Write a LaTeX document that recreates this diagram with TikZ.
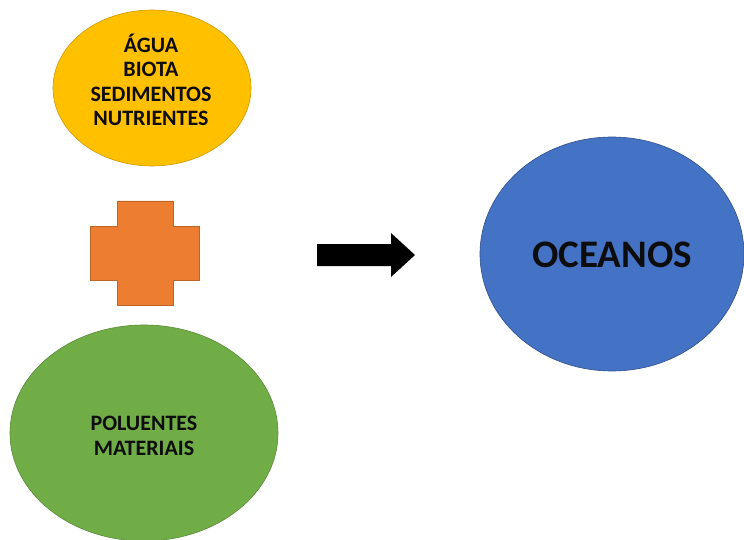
\documentclass[tikz,border=0pt]{standalone}
\usepackage{fontspec}
\setmainfont{Carlito}
\usetikzlibrary{shapes.geometric}
\definecolor{cyellow}{HTML}{FFC000}
\definecolor{corange}{HTML}{ED7D31}
\definecolor{cgreen}{HTML}{70AD47}
\definecolor{cblue}{HTML}{4472C4}
\definecolor{ctext}{HTML}{0D0D0D}
\tikzset{
  blob/.style={ellipse, inner sep=0pt, line width=0.6pt},
  lbl/.style={font=\bfseries, text=ctext, align=center, inner sep=0pt},
  small/.style={font=\fontsize{22}{24.5}\selectfont\bfseries},
}
\begin{document}
\begin{tikzpicture}[x=1pt,y=-1pt]
\useasboundingbox (0,0) rectangle (744,540);
\fill[white] (0,0) rectangle (744,540);
\node[blob, fill=cyellow, draw=cyellow!80!black, minimum width=198pt, minimum height=156pt] (agua) at (152,88) {};
\node[lbl, small] (aguatext) at (151,80) {ÁGUA\\BIOTA\\SEDIMENTOS\\NUTRIENTES};
\node[blob, fill=cgreen, draw=cgreen!80!black, minimum width=268pt, minimum height=216pt] (polu) at (144,433) {};
\node[lbl, small] (polutext) at (144,436) {POLUENTES\\MATERIAIS};
\node[blob, fill=cblue, draw=cblue!70!black, minimum width=264pt, minimum height=234pt] (ocean) at (612,254) {};
\node[lbl, font=\fontsize{39}{44}\selectfont\bfseries] (oceantext) at (612,255) {OCEANOS};
\path[fill=corange, draw=corange!80!black, line width=0.6pt]
  (117,201) -- (173,201) -- (173,226) -- (199,226) -- (199,280) -- (173,280) -- (173,305) -- (117,305) -- (117,280) -- (90,280) -- (90,226) -- (117,226) -- cycle;
\coordinate (plus) at (144.5,253);
\fill[black] (317,244) -- (391,244) -- (391,233) -- (415,255) -- (391,277) -- (391,266) -- (317,266) -- cycle;
\coordinate (arr) at (366,255);
\end{tikzpicture}
\end{document}
